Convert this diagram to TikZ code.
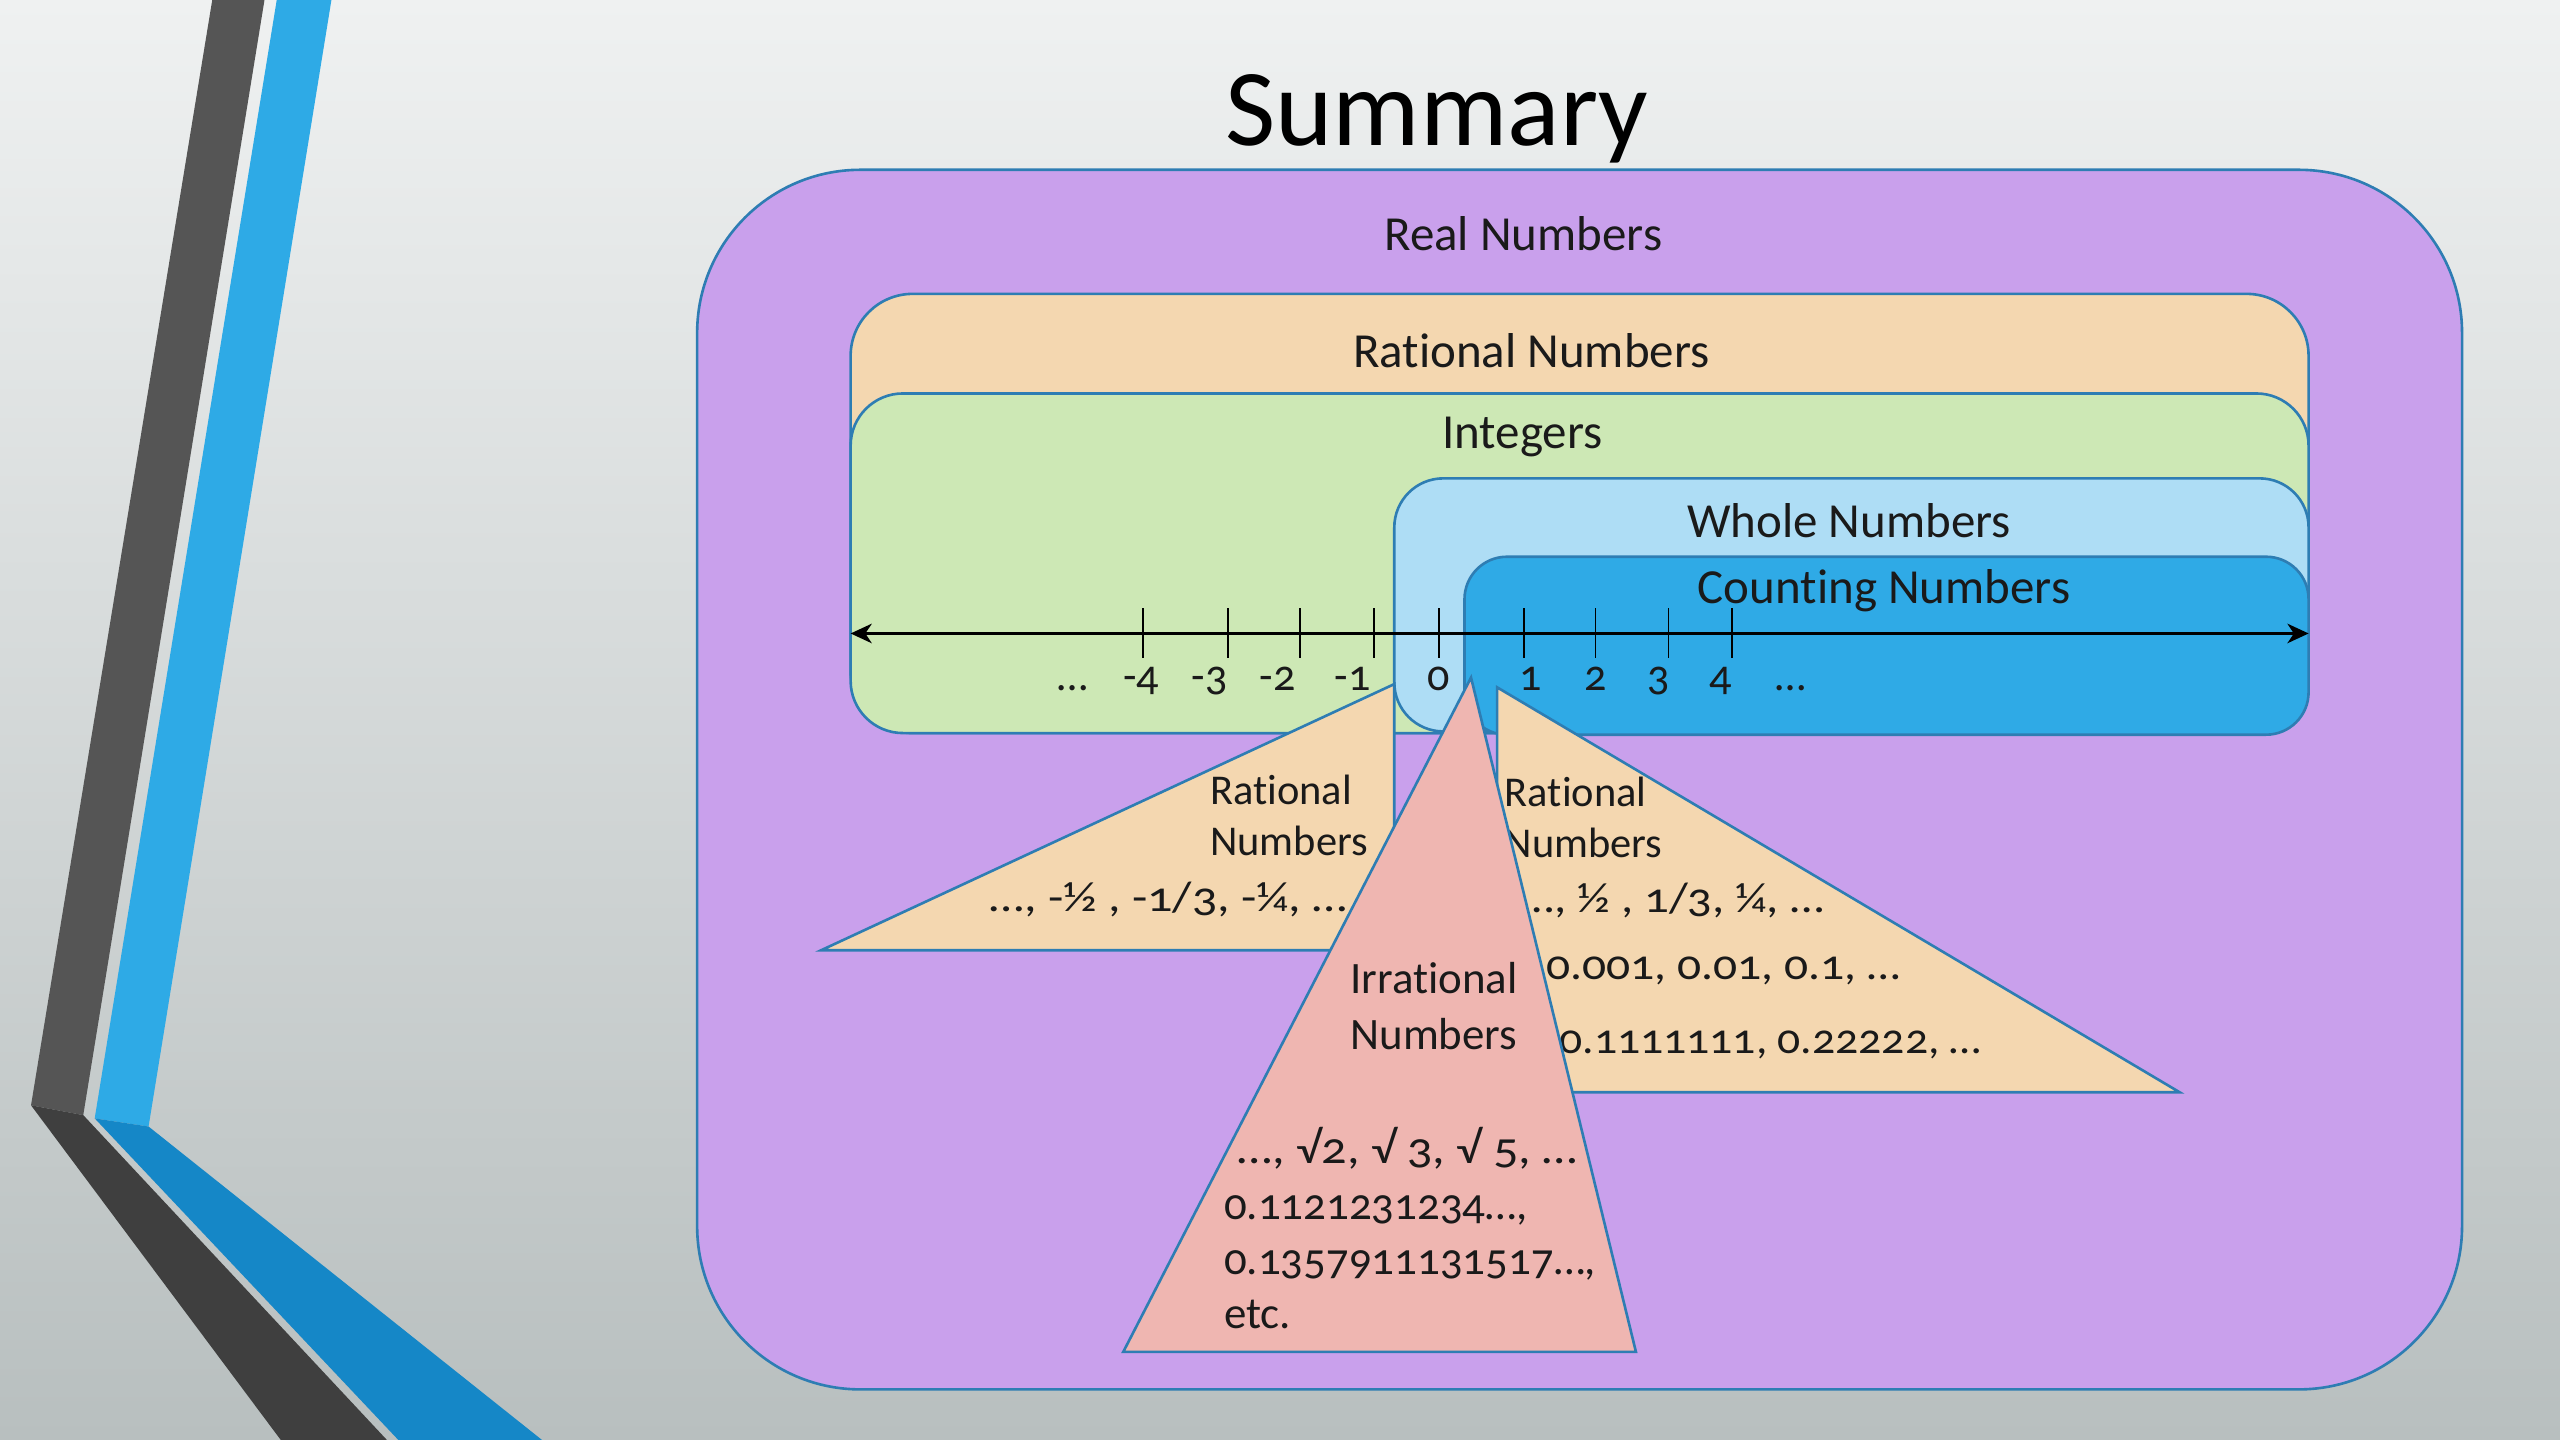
\documentclass[tikz,border=0pt]{standalone}
\usepackage{fontspec}
\usepackage{graphicx}
\setmainfont{Carlito}[Numbers=OldStyle, Ligatures={NoCommon}]
\usetikzlibrary{arrows.meta}
\newcommand\mynolig{\kern0pt }
\definecolor{bgtop}{HTML}{EFF1F1}
\definecolor{bgbot}{HTML}{B8BFBF}
\definecolor{darkup}{HTML}{555555}
\definecolor{darklow}{HTML}{3F3F3F}
\definecolor{blueup}{HTML}{2EAAE6}
\definecolor{bluelow}{HTML}{1587C7}
\definecolor{realc}{HTML}{C9A0EC}
\definecolor{ratc}{HTML}{F4D7B0}
\definecolor{intc}{HTML}{CDE8B5}
\definecolor{wholec}{HTML}{AEDDF5}
\definecolor{countc}{HTML}{2FAAE6}
\definecolor{irrc}{HTML}{EFB6B1}
\definecolor{edgec}{HTML}{2E7DB3}
\definecolor{txt}{HTML}{1A1A1A}
\tikzset{
  setbox/.style={draw=edgec, line width=1.6pt},
  boxlabel/.style={anchor=base, inner sep=0pt, text=txt, font=\fontsize{30}{36}\selectfont},
  trilabel/.style={anchor=base west, inner sep=0pt, text=txt, font=\fontsize{26}{31}\selectfont},
  irrlabel/.style={anchor=base west, inner sep=0pt, text=txt, font=\fontsize{27.5}{33}\selectfont},
  numlabel/.style={anchor=base, inner sep=0pt, text=txt, font=\fontsize{27}{32}\selectfont},
  tickmark/.style={line width=1pt, black},
}
\begin{document}
\begin{tikzpicture}[x=1pt,y=-1pt]
\useasboundingbox (0,0) rectangle (1568,882);
\shade[top color=bgtop, bottom color=bgbot] (0,0) rectangle (1568,882);
% decorative stripes
\fill[darkup] (130,0) -- (162,0) -- (51,683) -- (19,677) -- cycle;
\fill[darklow] (19,677) -- (51,683) -- (237,882) -- (172,882) -- cycle;
\fill[blueup] (169.5,0) -- (203,0) -- (91,690) -- (58,685) -- cycle;
\fill[bluelow] (58,685) -- (91,690) -- (332,882) -- (244,882) -- cycle;
% title
\node[anchor=base, inner sep=0pt, text=black, font=\fontsize{67}{80}\selectfont] (title) at (880,89) {Summary};
% nested sets
\draw[setbox, fill=realc, rounded corners=100pt] (427,104) rectangle (1508,851);
\draw[setbox, fill=ratc, rounded corners=38pt] (521,180) rectangle (1414,449);
\draw[setbox, fill=intc, rounded corners=32pt] (521,241) rectangle (1414,449);
\draw[setbox, fill=wholec, rounded corners=30pt] (854,293) rectangle (1414,448);
\draw[setbox, fill=countc, rounded corners=26pt] (897,341) rectangle (1414,450);
\node[boxlabel] (lreal) at (933,153.5) {Real Numbers};
\node[boxlabel] (lrat) at (938,225) {Rat\mynolig ional Numbers};
\node[boxlabel] (lint) at (932.5,275) {Integers};
\node[boxlabel] (lwhole) at (1132.5,329) {Whole Numbers};
\node[boxlabel] (lcount) at (1154,369.5) {Count\mynolig ing Numbers};
% number line
\coordinate (nlL) at (521,388);
\coordinate (nlR) at (1414,388);
\draw[line width=1.3pt, black, {Stealth[length=13pt,width=12pt,inset=4pt]}-{Stealth[length=13pt,width=12pt,inset=4pt]}] (nlL) -- (nlR);
\foreach \t in {700.2,752.3,796.2,841.5,881.2,933.3,977.2,1021.9,1060.7}
  \draw[tickmark] (\t,372.5) -- (\t,403);
\node[numlabel] (nd1) at (657,423) {…};
\node[numlabel] (nm4) at (699,423) {-4};
\node[numlabel] (nm3) at (741,423) {-3};
\node[numlabel] (nm2) at (782.5,423) {-2};
\node[numlabel] (nm1) at (828.5,423) {-1};
\node[numlabel] (n0) at (881,423) {0};
\node[numlabel] (n1) at (937.5,423) {1};
\node[numlabel] (n2) at (977.5,423) {2};
\node[numlabel] (n3) at (1016,423) {3};
\node[numlabel] (n4) at (1054,423) {4};
\node[numlabel] (nd2) at (1097,423) {…};
% left rational triangle
\draw[setbox, fill=ratc] (503,582) -- (854,419) -- (854,582) -- cycle;
\node[trilabel] (lt1) at (741,493) {Rat\mynolig ional};
\node[trilabel] (lt2) at (741,524) {Numbers};
\node[trilabel] (lt3) at (606,558.5) {\scalebox{1.18}[1]{…, -½ , -1/3, -¼, …}};
% right rational triangle
\draw[setbox, fill=ratc] (917,421) -- (1335,669) -- (917,669) -- cycle;
\node[trilabel] (rt1) at (921.5,494) {Rat\mynolig ional};
\node[trilabel] (rt2) at (921.5,525.5) {Numbers};
\node[trilabel] (rt3) at (931,559) {\scalebox{1.15}[1]{…, ½ , 1/3, ¼, …}};
\node[trilabel] (rt4) at (947,600) {\scalebox{1.12}[1]{0.001, 0.01, 0.1, …}};
\node[trilabel] (rt5) at (955,645) {\scalebox{1.075}[1]{0.1111111, 0.22222, …}};
% irrational triangle
\draw[setbox, fill=irrc] (901,415) -- (1002,828) -- (688,828) -- cycle;
\node[irrlabel] (ir1) at (827,608.5) {Irrat\mynolig ional};
\node[irrlabel] (ir2) at (827,643) {Numbers};
\node[irrlabel] (ir3) at (758,712.5) {\scalebox{1.12}[1]{…, √2, √ 3, √ 5, …}};
\node[irrlabel] (ir4) at (749.5,747) {0.1121231234…,};
\node[irrlabel] (ir5) at (749.5,780.5) {0.1357911131517…,};
\node[irrlabel] (ir6) at (749.5,813.5) {etc.};
\end{tikzpicture}
\end{document}
